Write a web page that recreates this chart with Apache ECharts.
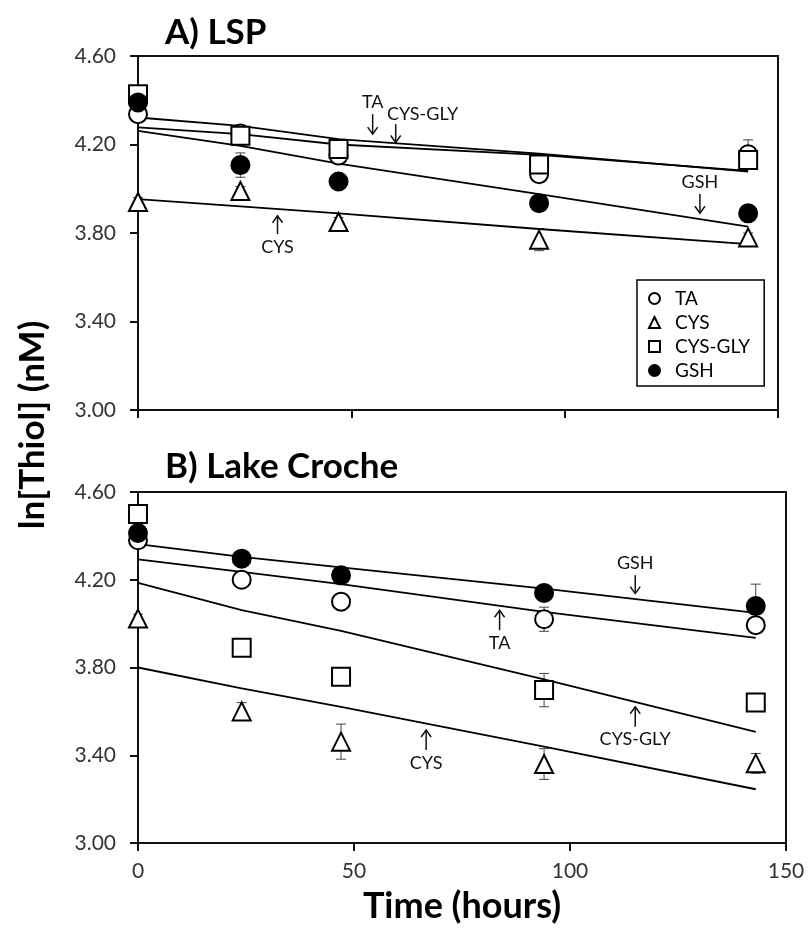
<!DOCTYPE html>
<html>
<head>
<meta charset="utf-8">
<script src="https://cdn.jsdelivr.net/npm/echarts@6/dist/echarts.min.js"></script>
<style>
  html, body { margin: 0; padding: 0; background: #fff; }
  #chart { width: 808px; height: 932px; }
</style>
</head>
<body>
<div id="chart"></div>
<script>
// sampling times (hours)
var hours = [0, 24, 47, 94, 143];
var thiolNames = ['TA', 'CYS', 'CYS-GLY', 'GSH'];
var yTicks = [3.0, 3.4, 3.8, 4.2, 4.6];
var xTicks = [0, 50, 100, 150];

// A) LSP - measured ln[thiol]
var lspTA = [4.337, 4.25, 4.15, 4.066, 4.156];
var lspCYS = [3.94, 3.99, 3.85, 3.77, 3.78];
var lspCYSGLY = [4.427, 4.24, 4.18, 4.11, 4.13];
var lspGSH = [4.39, 4.107, 4.033, 3.935, 3.889];
// error bars
var lspTAErr = [0.02, 0.02, 0.02, 0.03, 0.065];
var lspCYSErr = [0.02, 0.02, 0.02, 0.05, 0.02];
var lspCYSGLYErr = [0.02, 0.02, 0.02, 0.02, 0.02];
var lspGSHErr = [0.02, 0.055, 0.02, 0.03, 0.02];
// fitted curves
var lspTAFit = [4.277, 4.247, 4.20, 4.153, 4.081];
var lspCYSFit = [3.953, 3.92, 3.889, 3.818, 3.75];
var lspCYSGLYFit = [4.322, 4.284, 4.224, 4.159, 4.077];
var lspGSHFit = [4.262, 4.194, 4.114, 3.976, 3.829];

// B) Lake Croche
var lcTA = [4.38, 4.20, 4.10, 4.02, 3.993];
var lcCYS = [4.023, 3.60, 3.462, 3.36, 3.363];
var lcCYSGLY = [4.50, 3.89, 3.758, 3.697, 3.64];
var lcGSH = [4.413, 4.296, 4.22, 4.14, 4.08];
var lcTAErr = [0.02, 0.02, 0.02, 0.055, 0.02];
var lcCYSErr = [0.02, 0.04, 0.08, 0.07, 0.045];
var lcCYSGLYErr = [0.02, 0.02, 0.02, 0.076, 0.02];
var lcGSHErr = [0.02, 0.02, 0.02, 0.02, 0.1];
var lcTAFit = [4.293, 4.236, 4.18, 4.054, 3.935];
var lcCYSFit = [3.80, 3.705, 3.621, 3.439, 3.245];
var lcCYSGLYFit = [4.186, 4.061, 3.967, 3.746, 3.507];
var lcGSHFit = [4.362, 4.304, 4.256, 4.16, 4.049];

// arrow labels: text position + arrow (x, from, to) in data units
var labels = [
  { grid: 0, text: 'TA', x: 55, y: 4.39, ax: 55, a0: 4.337, a1: 4.247 },
  { grid: 0, text: 'CYS-GLY', x: 66.7, y: 4.337, ax: 60.4, a0: 4.292, a1: 4.209 },
  { grid: 0, text: 'GSH', x: 131.7, y: 4.029, ax: 131.7, a0: 3.976, a1: 3.889 },
  { grid: 0, text: 'CYS', x: 32.7, y: 3.735, ax: 32.7, a0: 3.795, a1: 3.878 },
  { grid: 1, text: 'GSH', x: 115.1, y: 4.277, ax: 115.1, a0: 4.221, a1: 4.137 },
  { grid: 1, text: 'TA', x: 83.7, y: 3.91, ax: 83.7, a0: 3.97, a1: 4.061 },
  { grid: 1, text: 'CYS-GLY', x: 115.1, y: 3.473, ax: 115.1, a0: 3.53, a1: 3.621 },
  { grid: 1, text: 'CYS', x: 66.7, y: 3.363, ax: 66.7, a0: 3.424, a1: 3.515 }
];

var FONT = 'Lato';
var symbols = { 'TA': 'circle', 'CYS': 'triangle', 'CYS-GLY': 'rect', 'GSH': 'circle' };

function pairs(vals) {
  return hours.map(function (h, i) { return [h, vals[i]]; });
}

function errRender(params, api) {
  var x = api.value(0), y = api.value(1), e = api.value(2);
  var hi = api.coord([x, y + e]);
  var lo = api.coord([x, y - e]);
  var st = { stroke: '#444', lineWidth: 1 };
  return {
    type: 'group',
    children: [
      { type: 'line', shape: { x1: hi[0], y1: hi[1], x2: lo[0], y2: lo[1] }, style: st },
      { type: 'line', shape: { x1: hi[0] - 5, y1: hi[1], x2: hi[0] + 5, y2: hi[1] }, style: st },
      { type: 'line', shape: { x1: lo[0] - 5, y1: lo[1], x2: lo[0] + 5, y2: lo[1] }, style: st }
    ]
  };
}

function addThiol(list, idx, name, vals, errs, fit) {
  list.push({
    type: 'custom',
    xAxisIndex: idx, yAxisIndex: idx,
    renderItem: errRender,
    encode: { x: 0, y: 1 },
    data: hours.map(function (h, i) { return [h, vals[i], errs[i]]; }),
    z: 2, silent: true
  });
  list.push({
    type: 'line',
    name: name + ' fit',
    xAxisIndex: idx, yAxisIndex: idx,
    data: pairs(fit),
    symbol: 'none',
    lineStyle: { color: '#000', width: 1.8 },
    z: 3, silent: true
  });
  list.push({
    type: 'scatter',
    name: name,
    xAxisIndex: idx, yAxisIndex: idx,
    data: pairs(vals),
    symbol: symbols[name],
    symbolSize: 18,
    itemStyle: {
      color: name === 'GSH' ? '#000' : '#fff',
      borderColor: '#000',
      borderWidth: 2,
      opacity: 1
    },
    z: 4
  });
}

var series = [];
addThiol(series, 0, 'TA', lspTA, lspTAErr, lspTAFit);
addThiol(series, 0, 'CYS', lspCYS, lspCYSErr, lspCYSFit);
addThiol(series, 0, 'CYS-GLY', lspCYSGLY, lspCYSGLYErr, lspCYSGLYFit);
addThiol(series, 0, 'GSH', lspGSH, lspGSHErr, lspGSHFit);
addThiol(series, 1, 'TA', lcTA, lcTAErr, lcTAFit);
addThiol(series, 1, 'CYS', lcCYS, lcCYSErr, lcCYSFit);
addThiol(series, 1, 'CYS-GLY', lcCYSGLY, lcCYSGLYErr, lcCYSGLYFit);
addThiol(series, 1, 'GSH', lcGSH, lcGSHErr, lcGSHFit);

function xAxis(idx, showLabels) {
  return {
    type: 'value', gridIndex: idx,
    min: xTicks[0], max: xTicks[xTicks.length - 1], interval: 50,
    axisLine: { lineStyle: { color: '#111', width: 2 } },
    axisTick: { show: true, inside: false, length: 8, lineStyle: { color: '#111', width: 2 } },
    axisLabel: { show: showLabels, margin: 18, color: '#333', fontSize: 21, fontFamily: FONT },
    splitLine: { show: false },
    name: showLabels ? 'Time (hours)' : '',
    nameLocation: 'middle', nameGap: 45,
    nameTextStyle: { color: '#000', fontSize: 36, fontWeight: 'bold', fontFamily: FONT }
  };
}

function yAxis(idx) {
  return {
    type: 'value', gridIndex: idx,
    min: yTicks[0], max: yTicks[yTicks.length - 1], interval: 0.4,
    axisLine: { show: true, lineStyle: { color: '#111', width: 2 } },
    axisTick: { show: true, length: 8, lineStyle: { color: '#111', width: 2 } },
    axisLabel: {
      margin: 22, color: '#333', fontSize: 21, fontFamily: FONT,
      formatter: function (v) { return v.toFixed(2); }
    },
    splitLine: { show: false }
  };
}

var chart = echarts.init(document.getElementById('chart'));
chart.setOption({
  animation: false,
  backgroundColor: '#fff',
  title: [
    { text: 'A) LSP', left: 160, top: 10,
      textStyle: { fontFamily: FONT, fontWeight: 'bold', fontSize: 35, color: '#000' } },
    { text: 'B) Lake Croche', left: 160, top: 444,
      textStyle: { fontFamily: FONT, fontWeight: 'bold', fontSize: 35, color: '#000' } }
  ],
  grid: [
    { left: 138, top: 56, width: 640, height: 354, show: true, borderColor: '#111', borderWidth: 2 },
    { left: 138, top: 492, width: 648, height: 351, show: true, borderColor: '#111', borderWidth: 2 }
  ],
  legend: {
    data: thiolNames,
    orient: 'vertical',
    left: 637, top: 280,
    itemWidth: 11, itemHeight: 11, itemGap: 5,
    padding: [9, 14, 6, 11],
    borderColor: '#000', borderWidth: 1.5,
    selectedMode: false,
    itemStyle: { borderWidth: 2, opacity: 1 },
    textStyle: { fontFamily: FONT, fontSize: 19, color: '#000', padding: [0, 0, 0, 10] }
  },
  xAxis: [xAxis(0, false), xAxis(1, true)],
  yAxis: [yAxis(0), yAxis(1)],
  series: series
});

// arrow labels + shared y-axis title
var gfx = [{
  type: 'text', x: 33, y: 425, rotation: Math.PI / 2,
  style: { text: 'ln[Thiol] (nM)', font: 'bold 35px Lato', fill: '#000', textAlign: 'center', textVerticalAlign: 'middle' }
}];
labels.forEach(function (a) {
  var p = chart.convertToPixel({ gridIndex: a.grid }, [a.x, a.y]);
  var t = chart.convertToPixel({ gridIndex: a.grid }, [a.ax, a.a0]);
  var h = chart.convertToPixel({ gridIndex: a.grid }, [a.ax, a.a1]);
  var d = h[1] > t[1] ? 1 : -1;
  gfx.push({
    type: 'text', x: p[0], y: p[1],
    style: { text: a.text, font: '18px Lato', fill: '#111', textAlign: 'center', textVerticalAlign: 'middle' }
  });
  gfx.push({ type: 'polyline', shape: { points: [t, h] }, style: { stroke: '#111', lineWidth: 1.5, fill: null } });
  gfx.push({
    type: 'polyline',
    shape: { points: [[h[0] - 5, h[1] - d * 7], [h[0], h[1]], [h[0] + 5, h[1] - d * 7]] },
    style: { stroke: '#111', lineWidth: 1.5, fill: null }
  });
});
chart.setOption({ graphic: gfx });
</script>
</body>
</html>
